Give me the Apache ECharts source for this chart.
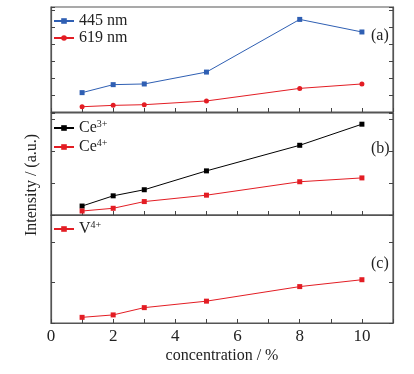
<!DOCTYPE html>
<html><head><meta charset="utf-8">
<script src="https://cdn.jsdelivr.net/npm/echarts@6/dist/echarts.min.js"></script>
<style>html,body{margin:0;padding:0;background:#fff}#c{width:414px;height:374px}</style>
</head><body><div id="c"></div>
<script>
const conc = [1, 2, 3, 5, 8, 10];
const xTicks = [0, 2, 4, 6, 8, 10];
const em445 = [1.14, 1.61, 1.65, 2.35, 5.45, 4.71];
const em619 = [0.31, 0.39, 0.43, 0.65, 1.39, 1.65];
const ce3 = [0.28, 0.60, 0.79, 1.38, 2.18, 2.84];
const ce4 = [0.125, 0.21, 0.42, 0.62, 1.04, 1.16];
const v4 = [0.14, 0.20, 0.38, 0.54, 0.90, 1.07];

const FONT = '"Liberation Serif","DejaVu Serif",serif';
const BLUE = '#2f5fb3', RED = '#e31d24', BLACK = '#000';
const pts = arr => conc.map((c, i) => [c, arr[i]]);

const grids = [
  {left: 51, right: 21, top: 7, height: 105},
  {left: 51, right: 21, top: 113, height: 102},
  {left: 51, right: 21, top: 215, height: 108}
].map(g => Object.assign(g, {show: true, borderColor: '#555', borderWidth: 1.2, backgroundColor: 'transparent'}));

const yMax = [6.18, 3.19, 2.67];
const xAxes = [0, 1, 2].map(i => ({
  type: 'value', gridIndex: i, min: 0, max: 11, interval: 1,
  axisLine: {show: true, lineStyle: {color: '#555', width: 1.2}},
  axisTick: {show: true, inside: true, length: 4, lineStyle: {color: '#444'}},
  splitLine: {show: false},
  axisLabel: {show: i === 2, fontFamily: FONT, fontSize: 17, color: '#222', margin: 5,
    formatter: v => xTicks.includes(v) ? String(v) : ''},
  name: i === 2 ? 'concentration / %' : '', nameLocation: 'middle', nameGap: 25,
  nameTextStyle: {fontFamily: FONT, fontSize: 16, color: '#222'}
}));
const yAxes = [];
[0, 1, 2].forEach(i => {
  ['left', 'right'].forEach(pos => {
    yAxes.push({
      type: 'value', gridIndex: i, position: pos, min: 0, max: yMax[i], interval: 1,
      axisLine: {show: true, lineStyle: {color: '#555', width: 1.2}},
      axisTick: {show: true, inside: true, length: 4, lineStyle: {color: '#444'}},
      axisLabel: {show: false}, splitLine: {show: false}
    });
  });
});

function ser(name, data, color, sym, gi) {
  return {name, type: 'line', xAxisIndex: gi, yAxisIndex: gi * 2, data: pts(data),
    symbol: sym, symbolSize: 5, showSymbol: true,
    lineStyle: {color, width: 1}, itemStyle: {color}, z: 5, animation: false};
}

const rich = {b: {fontFamily: FONT, fontSize: 16, color: '#222'}, s: {fontFamily: FONT, fontSize: 10, color: '#222', verticalAlign: 'top', padding: [0, 0, 8, 0]}};
const legFmt = n => {
  if (n === 'Ce3+') return '{b|Ce}{s|3+}';
  if (n === 'Ce4+') return '{b|Ce}{s|4+}';
  if (n === 'V4+') return '{b|V}{s|4+}';
  return '{b|' + n + '}';
};
const legBase = {orient: 'vertical', itemWidth: 20, itemHeight: 7, itemGap: 1, padding: 0,
  textStyle: {fontFamily: FONT, fontSize: 16, color: '#222', rich}, formatter: legFmt};

const chart = echarts.init(document.getElementById('c'), null, {renderer: 'canvas'});
chart.setOption({
  backgroundColor: '#fff',
  animation: false,
  grid: grids,
  xAxis: xAxes,
  yAxis: yAxes,
  legend: [
    Object.assign({}, legBase, {left: 53, top: 13, data: ['445 nm', '619 nm']}),
    Object.assign({}, legBase, {left: 53, top: 119, itemGap: 2, data: ['Ce3+', 'Ce4+']}),
    Object.assign({}, legBase, {left: 53, top: 220, data: ['V4+']})
  ],
  series: [
    ser('445 nm', em445, BLUE, 'rect', 0),
    ser('619 nm', em619, RED, 'circle', 0),
    ser('Ce3+', ce3, BLACK, 'rect', 1),
    ser('Ce4+', ce4, RED, 'rect', 1),
    ser('V4+', v4, RED, 'rect', 2)
  ],
  graphic: [
    {type: 'text', left: 371, top: 28, style: {text: '(a)', font: '16px ' + FONT, fill: '#222'}},
    {type: 'text', left: 371, top: 141, style: {text: '(b)', font: '16px ' + FONT, fill: '#222'}},
    {type: 'text', left: 371, top: 256, style: {text: '(c)', font: '16px ' + FONT, fill: '#222'}},
    {type: 'text', x: 32, y: 185, rotation: Math.PI / 2,
      style: {text: 'Intensity / (a.u.)', font: '16px ' + FONT, fill: '#222', align: 'center', verticalAlign: 'middle'}}
  ]
});
</script></body></html>
